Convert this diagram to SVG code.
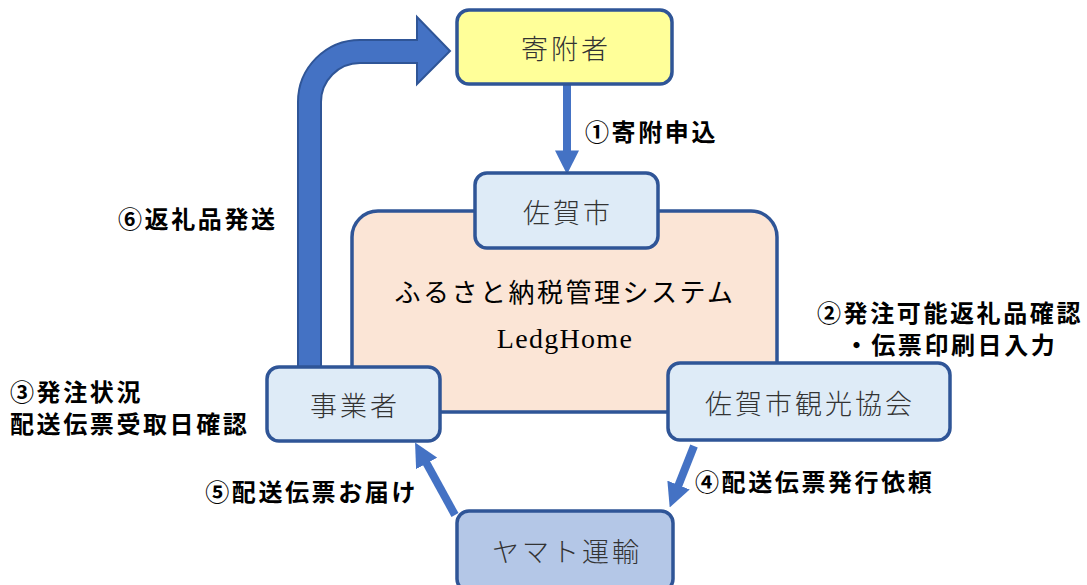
<svg xmlns="http://www.w3.org/2000/svg" width="1087" height="585" viewBox="0 0 1087 585">
<style>
.node{stroke:#2F5597;stroke-width:3.5}
.nl{font-family:"Noto Sans CJK JP",sans-serif;font-size:27px;fill:#333;text-anchor:middle;dominant-baseline:central;letter-spacing:3px;font-weight:300}
.lab{font-family:"Noto Sans CJK JP",sans-serif;font-size:24px;fill:#000;font-weight:bold;dominant-baseline:central;letter-spacing:2.6px}
.conn{stroke:#4472C4;stroke-width:8;fill:none}
</style>
<defs>
<marker id="ah" markerWidth="3" markerHeight="3" refX="1.2" refY="1.5" orient="auto" markerUnits="strokeWidth">
<path d="M0,0 L3,1.5 L0,3 z" fill="#4472C4"/>
</marker>
</defs>
<rect width="1087" height="585" fill="#fff"/>
<g id="connectors">
<path d="M298,367 L298,102 A62,62 0 0 1 360,40 L417,40 L417,17 L450,51 L417,84 L417,63 L360,63 A39,39 0 0 0 321,102 L321,367 Z" fill="#4472C4" stroke="#2F5597" stroke-width="2"/>
<line class="conn" x1="567" y1="85" x2="567" y2="160" marker-end="url(#ah)"/>
<line class="conn" x1="694" y1="446" x2="675" y2="494" marker-end="url(#ah)"/>
<line class="conn" x1="455" y1="515" x2="422" y2="455" marker-end="url(#ah)"/>
</g>
<g id="system">
<rect x="352" y="211" width="425" height="201" rx="26" fill="#FBE5D6" stroke="#2F5597" stroke-width="3.5"/>
<text x="565" y="290" font-family="'Noto Sans CJK JP',sans-serif" font-size="26" fill="#000" text-anchor="middle" dominant-baseline="central" letter-spacing="2.5">ふるさと納税管理システム</text>
<text x="565" y="348" font-family="'Liberation Serif',serif" font-size="28" fill="#000" text-anchor="middle" letter-spacing="1.3">LedgHome</text>
</g>
<g id="node-kifusha">
<rect class="node" x="457" y="10" width="215" height="74" rx="12" fill="#FFFF99"/>
<text class="nl" x="566" y="47">寄附者</text>
</g>
<g id="node-sagashi">
<rect class="node" x="475" y="173" width="183" height="75" rx="12" fill="#DEEBF7"/>
<text class="nl" x="568" y="211">佐賀市</text>
</g>
<g id="node-jigyosha">
<rect class="node" x="267" y="367" width="173" height="74" rx="12" fill="#DEEBF7"/>
<text class="nl" x="355" y="404">事業者</text>
</g>
<g id="node-kankokyokai">
<rect class="node" x="668" y="363" width="282" height="77" rx="12" fill="#DEEBF7"/>
<text class="nl" x="810" y="402">佐賀市観光協会</text>
</g>
<g id="node-yamato">
<rect class="node" x="457" y="511" width="216" height="80" rx="12" fill="#B4C7E7"/>
<text class="nl" x="567" y="550">ヤマト運輸</text>
</g>
<g id="labels">
<text class="lab" x="585" y="130">①寄附申込</text>
<text class="lab" x="118" y="217">⑥返礼品発送</text>
<text class="lab" x="950" y="311" text-anchor="middle">②発注可能返礼品確認</text>
<text class="lab" x="951" y="343" text-anchor="middle">・伝票印刷日入力</text>
<text class="lab" x="10" y="390">③発注状況</text>
<text class="lab" x="10" y="422">配送伝票受取日確認</text>
<text class="lab" x="695" y="480">④配送伝票発行依頼</text>
<text class="lab" x="418" y="490" text-anchor="end">⑤配送伝票お届け</text>
</g>
</svg>
